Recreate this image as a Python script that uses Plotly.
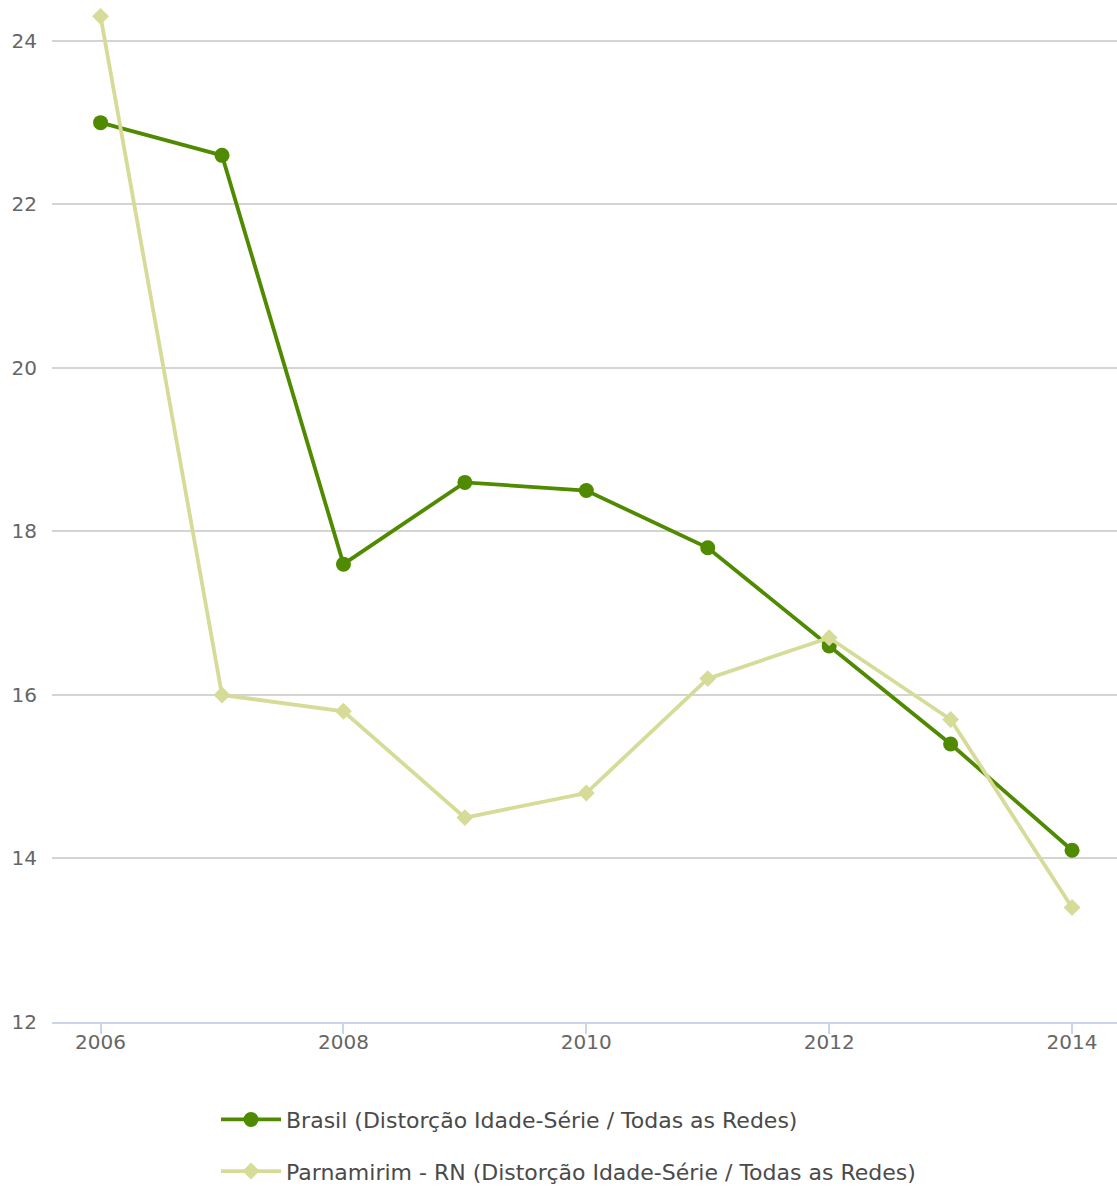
import plotly.graph_objects as go

years = [2006, 2007, 2008, 2009, 2010, 2011, 2012, 2013, 2014]
brasil = [23.0, 22.6, 17.6, 18.6, 18.5, 17.8, 16.6, 15.4, 14.1]
parnamirim = [24.3, 16.0, 15.8, 14.5, 14.8, 16.2, 16.7, 15.7, 13.4]

name_brasil = "Brasil (Distorção Idade-Série / Todas as Redes)"
name_parnamirim = "Parnamirim - RN (Distorção Idade-Série / Todas as Redes)"

dark = "#4f8a00"
light = "#d6dc98"
font_family = "DejaVu Sans"

fig = go.Figure()
fig.add_trace(go.Scatter(
    x=years, y=brasil, name=name_brasil, mode="lines+markers",
    line=dict(color=dark, width=3.8),
    marker=dict(symbol="circle", size=15, color=dark),
    legendgroup="a",
))
fig.add_trace(go.Scatter(
    x=years, y=parnamirim, name=name_parnamirim, mode="lines+markers",
    line=dict(color=light, width=3.8),
    marker=dict(symbol="diamond", size=13, color=light),
    legendgroup="b",
))

fig.update_layout(
    width=1117, height=1188,
    margin=dict(l=52, r=0, t=0, b=166, autoexpand=False),
    plot_bgcolor="white", paper_bgcolor="white",
    font=dict(family=font_family, color="#666666", size=20),
    showlegend=True,
    legend=dict(
        orientation="v", x=0.154, xanchor="left", y=-0.075, yanchor="top",
        font=dict(size=22, color="#4a4a4a", family=font_family),
        traceorder="grouped", tracegroupgap=20, itemwidth=60,
    ),
    xaxis=dict(
        range=[2005.6, 2014.37], tickmode="array", tickvals=[2006, 2008, 2010, 2012, 2014],
        showgrid=False, zeroline=False,
        showline=True, linecolor="#ccd6eb", linewidth=1.5,
        ticks="outside", ticklen=10, tickcolor="#ccd6eb", tickwidth=1.5,
        ticklabelstandoff=-9,
        tickfont=dict(size=20, color="#666666"),
    ),
    yaxis=dict(
        range=[12, 24.5], tickvals=[12, 14, 16, 18, 20, 22, 24],
        showgrid=True, gridcolor="#d4d4d4", gridwidth=1.5, zeroline=False,
        showline=False, ticks="", ticklabelstandoff=14,
        tickfont=dict(size=20, color="#666666"),
    ),
)

fig.write_html("out.html")
